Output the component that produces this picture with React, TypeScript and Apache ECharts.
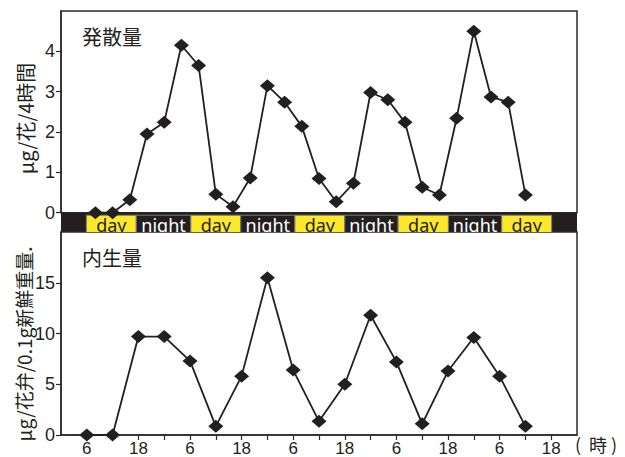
import { useEffect, useRef } from "react";
import * as echarts from "echarts";

// 発散量 (μg/花/4時間), sampled every 4 h
const emissionHours = [8, 12, 16, 20, 24, 28, 32, 36, 40, 44, 48, 52, 56, 60, 64, 68, 72, 76, 80, 84, 88, 92, 96, 100, 104, 108];
const emissionValues = [0, 0, 0.32, 1.95, 2.24, 4.15, 3.65, 0.46, 0.15, 0.86, 3.15, 2.74, 2.14, 0.85, 0.27, 0.73, 2.98, 2.8, 2.24, 0.63, 0.44, 2.34, 4.5, 2.87, 2.74, 0.44];

// 内生量 (μg/花弁/0.1g新鮮重量), sampled every 6 h
const contentHours = [6, 12, 18, 24, 30, 36, 42, 48, 54, 60, 66, 72, 78, 84, 90, 96, 102, 108];
const contentValues = [0, 0, 9.7, 9.7, 7.3, 0.85, 5.8, 15.5, 6.4, 1.35, 5.0, 11.8, 7.2, 1.1, 6.3, 9.6, 5.8, 0.85];

// light period boxes (hours from start)
const dayStarts = [5.9, 30.2, 54.4, 78.4, 102.5];
const dayEnds = [17.5, 41.8, 66.0, 90.1, 114.1];

// time axis
const hourTicks = [6, 12, 18, 24, 30, 36, 42, 48, 54, 60, 66, 72, 78, 84, 90, 96, 102, 108, 114];
const hourLabelValues = [6, 18, 30, 42, 54, 66, 78, 90, 102, 114];
const hourLabelTexts = ["6", "18", "6", "18", "6", "18", "6", "18", "6", "18"];

const INK = "#231f20";
const FRAME = "#2b2b2b";
const YELLOW = "#fde82a";
const NUM_FONT = "'Liberation Sans', Arial, sans-serif";
const JP_FONT = "'Noto Sans CJK JP', sans-serif";

export default function App() {
  const ref = useRef<HTMLDivElement>(null);

  useEffect(() => {
    if (!ref.current) return;
    const chart = echarts.init(ref.current, null, { renderer: "svg" });

    // band segments: kind 1 = day, 0 = night
    const bandData: number[][] = [];
    dayStarts.forEach((s, i) => {
      bandData.push([s, dayEnds[i], 1]);
      if (i < dayStarts.length - 1) bandData.push([dayEnds[i], dayStarts[i + 1], 0]);
    });

    const labelFor = (v: number) => {
      const idx = hourLabelValues.indexOf(v);
      return idx >= 0 ? hourLabelTexts[idx] : "";
    };

    const gridCommon = { left: 61, width: 516 };

    chart.setOption({
      animation: false,
      backgroundColor: "#ffffff",
      grid: [
        { ...gridCommon, top: 11, height: 201.7, show: true, borderColor: FRAME, borderWidth: 1.5, backgroundColor: "transparent" },
        { ...gridCommon, top: 212.7, height: 19.3, show: true, borderWidth: 0, backgroundColor: INK },
        { ...gridCommon, top: 232, height: 203, show: true, borderColor: FRAME, borderWidth: 1.5, backgroundColor: "transparent" },
      ],
      xAxis: [
        { gridIndex: 0, type: "value", min: 0, max: 120, show: false },
        { gridIndex: 1, type: "value", min: 0, max: 120, show: false },
        {
          gridIndex: 2,
          type: "value",
          min: 0,
          max: 120,
          splitLine: { show: false },
          axisLine: { show: true, lineStyle: { color: FRAME, width: 1.5 } },
          axisTick: { show: true, length: 5, customValues: hourTicks, lineStyle: { color: FRAME, width: 1.2 } },
          axisLabel: {
            customValues: hourLabelValues,
            formatter: (v: number) => labelFor(v),
            fontSize: 17,
            fontFamily: NUM_FONT,
            color: INK,
            margin: 5,
          },
        },
      ],
      yAxis: [
        {
          gridIndex: 0,
          type: "value",
          min: 0,
          max: 5,
          interval: 1,
          splitLine: { show: false },
          axisLine: { show: true, lineStyle: { color: FRAME, width: 1.5 } },
          axisTick: { show: true, length: 5, customValues: [0, 1, 2, 3, 4], lineStyle: { color: FRAME, width: 1.2 } },
          axisLabel: { customValues: [0, 1, 2, 3, 4], fontSize: 18, fontFamily: NUM_FONT, color: INK, margin: 6 },
        },
        { gridIndex: 1, type: "value", min: 0, max: 1, show: false },
        {
          gridIndex: 2,
          type: "value",
          min: 0,
          max: 20,
          interval: 5,
          splitLine: { show: false },
          axisLine: { show: true, lineStyle: { color: FRAME, width: 1.5 } },
          axisTick: { show: true, length: 5, customValues: [0, 5, 10, 15], lineStyle: { color: FRAME, width: 1.2 } },
          axisLabel: { customValues: [0, 5, 10, 15], fontSize: 18, fontFamily: NUM_FONT, color: INK, margin: 6 },
        },
      ],
      series: [
        {
          type: "custom",
          xAxisIndex: 1,
          yAxisIndex: 1,
          clip: true,
          z: 1,
          data: bandData,
          encode: { x: [0, 1] },
          renderItem: (_params: any, api: any) => {
            const s = api.value(0);
            const e = api.value(1);
            const isDay = api.value(2) === 1;
            const p0 = api.coord([s, 0.87]);
            const p1 = api.coord([e, 0]);
            return {
              type: "group",
              children: [
                {
                  type: "rect",
                  shape: { x: p0[0], y: p0[1], width: p1[0] - p0[0], height: p1[1] - p0[1] + 1 },
                  style: { fill: isDay ? YELLOW : INK, stroke: "#7a7a7a", lineWidth: 1 },
                },
                {
                  type: "text",
                  x: (p0[0] + p1[0]) / 2,
                  y: 224.8,
                  style: {
                    text: isDay ? "day" : "night",
                    fill: isDay ? INK : "#ffffff",
                    fontSize: 18,
                    fontFamily: "'Noto Sans', sans-serif",
                    align: "center",
                    verticalAlign: "middle",
                  },
                },
              ],
            };
          },
        },
        {
          type: "line",
          xAxisIndex: 0,
          yAxisIndex: 0,
          z: 5,
          data: emissionHours.map((h, i) => [h, emissionValues[i]]),
          symbol: "diamond",
          symbolSize: [15, 13],
          lineStyle: { color: INK, width: 1.8 },
          itemStyle: { color: INK },
        },
        {
          type: "line",
          xAxisIndex: 2,
          yAxisIndex: 2,
          z: 5,
          data: contentHours.map((h, i) => [h, contentValues[i]]),
          symbol: "diamond",
          symbolSize: [15, 13],
          lineStyle: { color: INK, width: 1.8 },
          itemStyle: { color: INK },
        },
      ],
      graphic: [
        { type: "text", x: 82, y: 36, style: { text: "発散量", fontSize: 20, fontFamily: JP_FONT, fill: INK, verticalAlign: "middle" } },
        { type: "text", x: 82, y: 257, style: { text: "内生量", fontSize: 20, fontFamily: JP_FONT, fill: INK, verticalAlign: "middle" } },
        {
          type: "text",
          x: 25.5,
          y: 118.5,
          rotation: Math.PI / 2,
          style: { text: "μg/花/4時間", fontSize: 20, fontFamily: JP_FONT, fill: INK, align: "center", verticalAlign: "middle" },
        },
        {
          type: "text",
          x: 23,
          y: 344,
          rotation: Math.PI / 2,
          style: { text: "μg/花弁/0.1g新鮮重量.", fontSize: 19, fontFamily: JP_FONT, fill: INK, align: "center", verticalAlign: "middle" },
        },
        { type: "text", x: 575, y: 444, style: { text: "(", fontSize: 18, fontFamily: JP_FONT, fill: INK, verticalAlign: "middle" } },
        { type: "text", x: 589, y: 444, style: { text: "時", fontSize: 18, fontFamily: JP_FONT, fill: INK, verticalAlign: "middle" } },
        { type: "text", x: 611, y: 444, style: { text: ")", fontSize: 18, fontFamily: JP_FONT, fill: INK, verticalAlign: "middle" } },
      ],
    });

    return () => chart.dispose();
  }, []);

  return <div ref={ref} style={{ position: "fixed", left: 0, top: 0, width: 625, height: 457 }} />;
}
